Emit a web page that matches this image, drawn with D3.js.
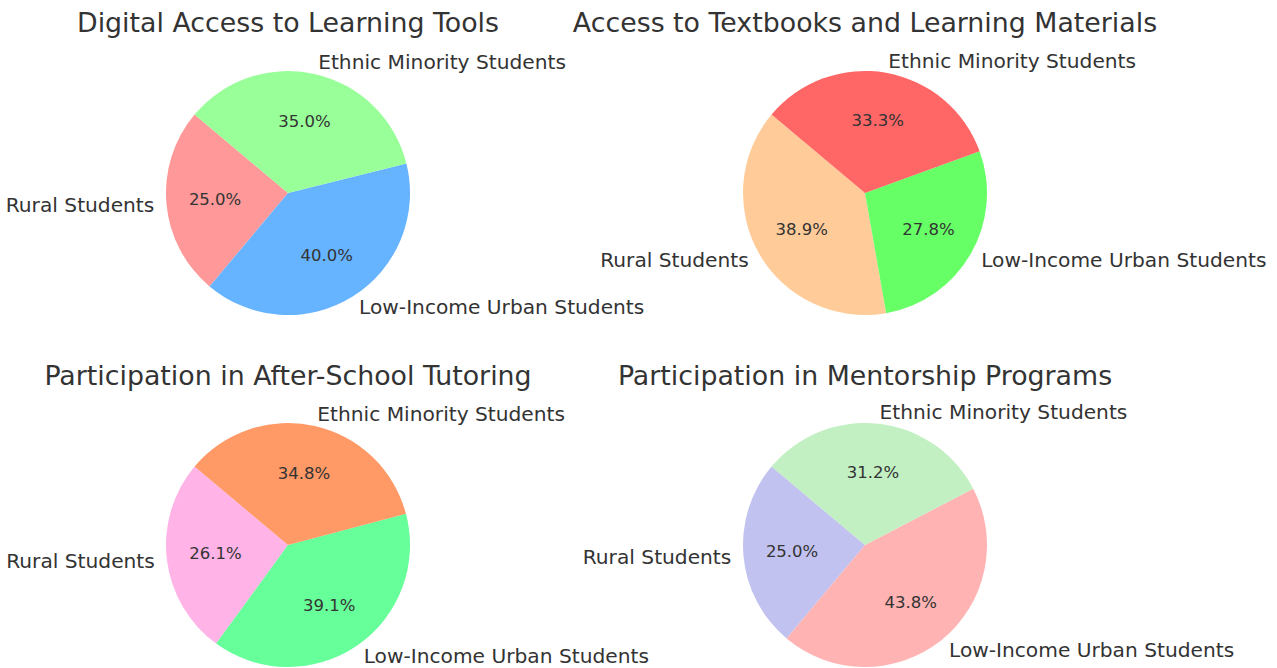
<!DOCTYPE html>
<html><head><meta charset="utf-8">
<script src="https://cdn.jsdelivr.net/npm/d3@7"></script>
<style>body{margin:0;background:#fff}svg{display:block}text{font-family:"DejaVu Sans",sans-serif;fill:#333}</style>
</head><body>
<svg id="c" width="1277" height="668"></svg>
<script>
const categories = ["Rural Students", "Low-Income Urban Students", "Ethnic Minority Students"];
const titles = ["Digital Access to Learning Tools", "Access to Textbooks and Learning Materials",
                "Participation in After-School Tutoring", "Participation in Mentorship Programs"];
const digitalAccess = [25, 40, 35];
const textbookAccess = [70, 50, 60];
const tutoring = [6, 9, 8];
const mentorship = [4, 7, 5];
const colorsDigital = ["#ff9999", "#66b3ff", "#99ff99"];
const colorsTextbook = ["#ffcc99", "#66ff66", "#ff6666"];
const colorsTutoring = ["#ffb3e6", "#66ff99", "#ff9966"];
const colorsMentorship = ["#c2c2f0", "#ffb3b3", "#c2f0c2"];

const series = [digitalAccess, textbookAccess, tutoring, mentorship];
const palettes = [colorsDigital, colorsTextbook, colorsTutoring, colorsMentorship];
const centers = [[288,193],[865,193],[288,545],[865,545]];
const titleY = [32, 32, 385, 385];
const R = 122;
const startDeg = 140;

// round-half-even to one decimal (like Python's "%1.1f")
function fmt1(v) {
  const s = v * 10;
  const f = Math.floor(s);
  const diff = s - f;
  let r;
  if (Math.abs(diff - 0.5) < 1e-9) r = (f % 2 === 0) ? f : f + 1;
  else r = Math.round(s);
  return (r / 10).toFixed(1);
}

const svg = d3.select("#c");
const pie = d3.pie().sort(null)
  .startAngle((90 - startDeg) * Math.PI/180)
  .endAngle((90 - startDeg - 360) * Math.PI/180);
const arc = d3.arc().innerRadius(0).outerRadius(R);

series.forEach((vals, i) => {
  const [cx, cy] = centers[i];
  const g = svg.append("g").attr("transform", `translate(${cx},${cy})`);
  const arcs = pie(vals);
  const total = d3.sum(vals);
  g.selectAll("path").data(arcs).join("path")
    .attr("d", arc).attr("fill", (d, j) => palettes[i][j]);
  arcs.forEach((d, j) => {
    const mid = (d.startAngle + d.endAngle) / 2;
    const sx = Math.sin(mid), sy = -Math.cos(mid);
    g.append("text")
      .attr("x", 1.1 * R * sx).attr("y", 1.1 * R * sy)
      .attr("text-anchor", sx > 0 ? "start" : "end")
      .attr("dominant-baseline", "central")
      .style("font-size", "20.2px")
      .text(categories[j]);
    g.append("text")
      .attr("x", 0.6 * R * sx).attr("y", 0.6 * R * sy)
      .attr("text-anchor", "middle")
      .attr("dominant-baseline", "central")
      .style("font-size", "16.5px")
      .text(fmt1(d.data / total * 100) + "%");
  });
  svg.append("text").attr("x", cx).attr("y", titleY[i])
    .attr("text-anchor", "middle").style("font-size", "26.8px").text(titles[i]);
});
</script>
</body></html>
